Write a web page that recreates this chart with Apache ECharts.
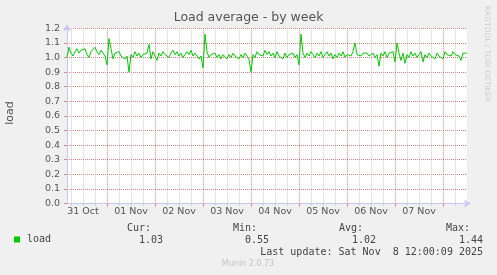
<!DOCTYPE html>
<html><head><meta charset="utf-8">
<script src="https://cdn.jsdelivr.net/npm/echarts@6/dist/echarts.min.js"></script>
<style>html,body{margin:0;padding:0;background:#f0f0f0}#c{width:497px;height:275px}</style>
</head><body><div id="c"></div>
<script>
// ---- chart data ----
const chartTitle = 'Load average - by week';
const yAxisTitle = 'load';
const seriesName = 'load';
const startHour = 4;      // hours after 31 Oct 00:00 (first sample)
const stepHours = 1;      // sample spacing
const endHour = 204;      // 8 Nov 12:00
const loadValues = [
  1.00,1.07,1.03,1.01,1.04,1.06,1.03,1.05,1.04,1.06,1.02,1.00,1.04,1.03,1.07,1.04,1.02,1.05,1.03,1.01,
  0.95,1.13,1.06,0.99,1.03,1.02,1.04,1.01,1.02,0.99,1.01,0.90,1.02,1.00,1.04,1.01,1.03,1.00,1.02,1.01,
  1.03,1.09,0.99,1.04,1.05,0.98,1.03,1.01,1.04,1.02,1.03,1.00,1.03,1.05,1.02,1.04,1.01,1.03,1.00,1.02,
  1.04,1.02,1.05,1.01,1.03,1.02,0.99,1.01,0.93,1.16,1.04,1.00,1.02,1.01,1.03,1.00,1.02,0.99,1.02,1.01,
  0.99,1.02,1.00,1.03,1.01,1.02,0.99,1.02,1.00,1.03,1.01,0.99,0.90,1.02,1.00,1.04,1.02,1.03,1.01,1.05,
  1.02,1.04,1.01,1.03,1.00,1.04,1.01,1.02,0.99,1.03,1.00,1.02,1.01,1.03,1.00,1.02,0.95,1.16,1.03,1.00,
  1.03,1.01,1.04,1.02,1.00,1.03,1.01,1.04,1.00,1.02,1.04,1.01,1.03,0.99,1.02,1.00,1.03,1.01,1.04,1.00,
  1.02,1.03,1.01,1.04,1.10,1.02,1.03,1.01,1.03,1.02,1.03,1.01,1.02,1.03,1.00,1.02,0.94,1.03,1.01,1.04,
  1.00,1.03,1.02,1.04,0.97,1.10,1.03,0.98,1.03,0.96,1.02,1.00,1.04,1.01,1.03,1.00,1.02,1.04,0.97,1.02,
  1.00,1.03,1.01,1.02,0.99,1.03,1.01,1.02,0.99,1.04,1.02,1.03,1.01,1.04,1.02,1.03,1.01,0.98,1.03,1.02,
  1.03
];
const dayLabels = ['31 Oct','01 Nov','02 Nov','03 Nov','04 Nov','05 Nov','06 Nov','07 Nov'];
const dayLabelHours = [12,36,60,84,108,132,156,180];
const midnightHours = [24,48,72,96,120,144,168,192];
const yMin = 0, yMax = 1.2, yStep = 0.1;
const statNames = ['Cur:','Min:','Avg:','Max:'];
const statValues = ['1.03','0.55','1.02','1.44'];
const lastUpdate = 'Last update: Sat Nov  8 12:00:09 2025';
const sideText = 'RRDTOOL / TOBI OETIKER';
const footer = 'Munin 2.0.73';

// ---- build ----
const seriesData = loadValues.map((v, i) => [startHour + i * stepHours, v]);
const sixHourMarks = [];
for (let h = 6; h < endHour; h += 6) if (h % 24 !== 0) sixHourMarks.push(h);

const sans = 'DejaVu Sans';
const mono = 'DejaVu Sans Mono';
const axisBlue = '#c8c8f4';
const redGrid = '#ee8080';
const grayGrid = '#cacaca';

const baseX = {
  type: 'value', min: startHour, max: endHour, position: 'bottom',
  axisLabel: { show: false }, axisLine: { show: false }
};

const statX = [151, 257, 363, 470];
const valX = [163, 269, 376, 483];
const graphics = [];
statNames.forEach((s, i) => {
  graphics.push({ type: 'text', x: statX[i], y: 228, style: { text: s, textAlign: 'right', textVerticalAlign: 'middle', font: '10px "DejaVu Sans Mono"', fill: '#444' } });
  graphics.push({ type: 'text', x: valX[i], y: 240, style: { text: statValues[i], textAlign: 'right', textVerticalAlign: 'middle', font: '10px "DejaVu Sans Mono"', fill: '#444' } });
});
graphics.push({ type: 'text', x: 483, y: 252, style: { text: lastUpdate, textAlign: 'right', textVerticalAlign: 'middle', font: '10px "DejaVu Sans Mono"', fill: '#444' } });
graphics.push({ type: 'text', x: 248, y: 264, style: { text: footer, textAlign: 'center', textVerticalAlign: 'middle', font: '8px "DejaVu Sans"', fill: '#c4c4c4' } });
graphics.push({ type: 'text', x: 487, y: 54, rotation: -Math.PI / 2, style: { text: sideText, textAlign: 'center', textVerticalAlign: 'middle', font: '7.5px "DejaVu Sans"', fill: '#cfcfcf' } });
graphics.push({ type: 'text', x: 10, y: 113, rotation: Math.PI / 2, style: { text: yAxisTitle, textAlign: 'center', textVerticalAlign: 'middle', font: '11px "DejaVu Sans"', fill: '#555' } });

const chart = echarts.init(document.getElementById('c'), null, { renderer: 'canvas' });
chart.setOption({
  backgroundColor: '#f0f0f0',
  animation: false,
  title: { text: chartTitle, left: 'center', top: 11, padding: 0,
    textStyle: { fontFamily: sans, fontSize: 12.5, fontWeight: 'normal', color: '#555' } },
  grid: { left: 67, right: 30, top: 28.3, bottom: 71.5, show: true, backgroundColor: '#ffffff', borderWidth: 0 },
  legend: { data: [seriesName], left: 14, top: 234.5, padding: 0, icon: 'rect', itemWidth: 6, itemHeight: 6, itemGap: 5,
    selectedMode: false, textStyle: { fontFamily: mono, fontSize: 10, color: '#444', padding: [0,0,0,2] } },
  xAxis: [
    Object.assign({}, baseX, {
      axisTick: { show: true, customValues: sixHourMarks, length: 2, lineStyle: { color: '#c8c8c8' } },
      splitLine: { show: true, lineStyle: { color: grayGrid, type: [1, 1], width: 1 } }
    }),
    Object.assign({}, baseX, {
      axisTick: { show: true, customValues: midnightHours, length: 3, lineStyle: { color: '#e08080' } },
      splitLine: { show: true, lineStyle: { color: redGrid, type: [1, 1], width: 1 } }
    }),
    Object.assign({}, baseX, {
      axisLine: { show: true, lineStyle: { color: axisBlue, width: 1 }, symbol: ['none', 'arrow'], symbolSize: [6, 7], symbolOffset: [0, 4] },
      axisTick: { show: false },
      splitLine: { show: false },
      axisLabel: { show: true, customValues: dayLabelHours, margin: 3, fontFamily: sans, fontSize: 9.5, color: '#555',
        formatter: v => { const k = dayLabelHours.indexOf(v); return k >= 0 ? dayLabels[k] : ''; } }
    })
  ],
  yAxis: {
    type: 'value', min: yMin, max: yMax, interval: yStep,
    axisLine: { show: true, lineStyle: { color: axisBlue, width: 1 }, symbol: ['none', 'arrow'], symbolSize: [6, 7], symbolOffset: [0, 4] },
    axisTick: { show: true, length: 3, lineStyle: { color: '#e08080' } },
    axisLabel: { margin: 7, fontFamily: sans, fontSize: 9.5, color: '#555', formatter: v => v.toFixed(1) },
    splitLine: { show: true, lineStyle: { color: redGrid, type: [1, 1], width: 1 } }
  },
  series: [{
    name: seriesName, type: 'line', xAxisIndex: 0, data: seriesData,
    showSymbol: false, symbol: 'none', color: '#00cc00',
    lineStyle: { color: '#00cc00', width: 1 }, z: 5
  }],
  graphic: graphics
});
</script>
</body></html>
